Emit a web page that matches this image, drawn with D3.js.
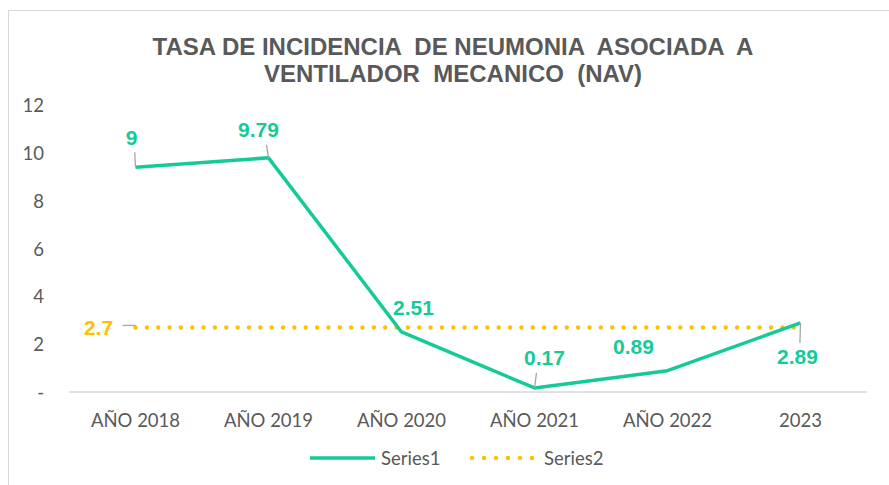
<!DOCTYPE html>
<html>
<head>
<meta charset="utf-8">
<script src="https://cdn.jsdelivr.net/npm/d3@7"></script>
<style>
  body { margin: 0; background: #fff; }
  svg text { font-family: "Liberation Sans", Arial, sans-serif; }
</style>
</head>
<body>
<div id="chart"></div>
<script>
// data
var categories = ["AÑO 2018", "AÑO 2019", "AÑO 2020", "AÑO 2021", "AÑO 2022", "2023"];
var series1 = [9.4, 9.79, 2.51, 0.17, 0.89, 2.89];
var series1Labels = ["9", "9.79", "2.51", "0.17", "0.89", "2.89"];
var series2 = [2.7, 2.7, 2.7, 2.7, 2.7, 2.7];
var yTicks = [0, 2, 4, 6, 8, 10, 12];
var titleLines = ["TASA DE INCIDENCIA  DE NEUMONIA  ASOCIADA  A", "VENTILADOR  MECANICO  (NAV)"];

// where each label sits relative to its point, and whether it gets a leader line
var labelOffsets = [[-4, -30, true], [-10, -28, true], [12, -24, false], [10, -30, true], [-34, -24, false], [-3, 34, true]];

var W = 889, H = 485;
var green = "#14cb98", orange = "#ffc000", grey = "#595959";
var axisFont = "Lato, sans-serif";

var svg = d3.select("#chart").append("svg").attr("width", W).attr("height", H);

// chart border
svg.append("rect").attr("x", 8.5).attr("y", 10.5).attr("width", W).attr("height", H)
  .attr("fill", "none").attr("stroke", "#d9d9d9");

var x = d3.scaleBand().domain(categories).range([69, 867]);
var y = d3.scaleLinear().domain([0, 12]).range([392, 105]);
var cx = function (d) { return x(d) + x.bandwidth() / 2; };

// title
svg.selectAll("text.title").data(titleLines).enter().append("text")
  .attr("x", 453).attr("y", function (d, i) { return 54.5 + i * 27; })
  .attr("text-anchor", "middle")
  .style("font-size", "24px").style("font-weight", "bold").style("fill", grey)
  .style("white-space", "pre")
  .text(function (d) { return d; });

// y axis labels
svg.selectAll("text.ytick").data(yTicks).enter().append("text")
  .attr("x", 44).attr("y", function (d) { return y(d) + 7; })
  .attr("text-anchor", "end")
  .style("font-family", axisFont).style("font-size", "18.5px").style("fill", grey)
  .text(function (d) { return d === 0 ? "-" : d; });

// baseline
svg.append("line").attr("x1", 69).attr("x2", 867).attr("y1", y(0)).attr("y2", y(0))
  .attr("stroke", "#d9d9d9").attr("stroke-width", 1.5);

// x labels
svg.selectAll("text.xtick").data(categories).enter().append("text")
  .attr("x", cx).attr("y", 427)
  .attr("text-anchor", "middle")
  .style("font-family", axisFont).style("font-size", "18.5px").style("fill", grey)
  .text(function (d) { return d; });

// series2 dotted line
var line2 = d3.line().x(function (d, i) { return cx(categories[i]); }).y(function (d) { return y(d); });
svg.append("path").datum(series2).attr("d", line2)
  .attr("fill", "none").attr("stroke", orange).attr("stroke-width", 4.4)
  .attr("stroke-linecap", "round").attr("stroke-dasharray", "0 11.35");

// series1 line
var line1 = d3.line().x(function (d, i) { return cx(categories[i]); }).y(function (d) { return y(d); });
svg.append("path").datum(series1).attr("d", line1)
  .attr("fill", "none").attr("stroke", green).attr("stroke-width", 3.5)
  .attr("stroke-linejoin", "round");

// leader lines
series1.forEach(function (v, i) {
  var o = labelOffsets[i];
  if (!o[2]) return;
  var px = cx(categories[i]), py = y(v);
  var sx = px + o[0] * 0.2, sy = py + (o[1] > 0 ? o[1] - 14 : o[1] + 15);
  svg.append("line").attr("x1", sx).attr("y1", sy).attr("x2", px).attr("y2", py)
    .attr("stroke", "#a6a6a6").attr("stroke-width", 1.3);
});
svg.append("line").attr("x1", cx(categories[0]) - 13).attr("x2", cx(categories[0]))
  .attr("y1", y(series2[0]) - 2).attr("y2", y(series2[0]) - 2)
  .attr("stroke", "#a6a6a6").attr("stroke-width", 1.3);

// data labels
svg.selectAll("text.lab1").data(series1).enter().append("text")
  .attr("x", function (d, i) { return cx(categories[i]) + labelOffsets[i][0]; })
  .attr("y", function (d, i) { return y(d) + labelOffsets[i][1] + 7.5; })
  .attr("text-anchor", "middle")
  .style("font-size", "21px").style("font-weight", "bold").style("fill", green)
  .text(function (d, i) { return series1Labels[i]; });

svg.append("text")
  .attr("x", cx(categories[0]) - 37).attr("y", y(series2[0]) + 7.5)
  .attr("text-anchor", "middle")
  .style("font-size", "21px").style("font-weight", "bold").style("fill", orange)
  .text(series2[0]);

// legend
var lg = svg.append("g").attr("transform", "translate(0,458)");
lg.append("line").attr("x1", 310).attr("x2", 375).attr("y1", 0).attr("y2", 0)
  .attr("stroke", green).attr("stroke-width", 3.5);
lg.append("text").attr("x", 381).attr("y", 7)
  .style("font-family", axisFont).style("font-size", "18.5px").style("fill", grey)
  .text("Series1");
lg.append("line").attr("x1", 472).attr("x2", 533).attr("y1", 0).attr("y2", 0)
  .attr("stroke", orange).attr("stroke-width", 4.4)
  .attr("stroke-linecap", "round").attr("stroke-dasharray", "0 12");
lg.append("text").attr("x", 544).attr("y", 7)
  .style("font-family", axisFont).style("font-size", "18.5px").style("fill", grey)
  .text("Series2");
</script>
</body>
</html>
